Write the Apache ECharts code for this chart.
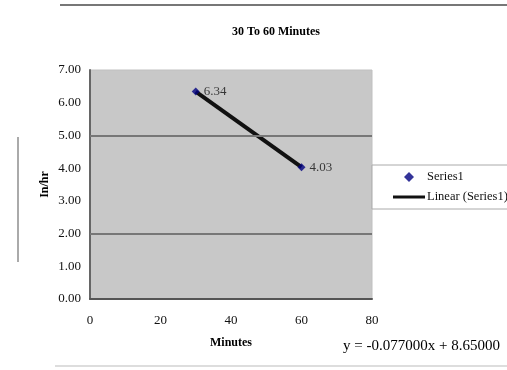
<!DOCTYPE html>
<html>
<head>
<meta charset="utf-8">
<script src="https://cdn.jsdelivr.net/npm/echarts@6/dist/echarts.min.js"></script>
<style>html,body{margin:0;padding:0;background:#fff}#c{width:507px;height:370px}</style>
</head>
<body>
<div id="c"></div>
<script>
// ---- data ----
const minutes = [30, 60];
const rates = [6.34, 4.03];
const xTicks = [0, 20, 40, 60, 80];
const yTicks = [0, 1, 2, 3, 4, 5, 6, 7];
const gridValues = [2, 5];
const titleText = '30 To 60 Minutes';
const xName = 'Minutes';
const yName = 'In/hr';
const seriesName = 'Series1';
const trendName = 'Linear (Series1)';

// linear regression trendline from the data
const n = minutes.length;
const mx = minutes.reduce((a, b) => a + b, 0) / n;
const my = rates.reduce((a, b) => a + b, 0) / n;
let sxy = 0, sxx = 0;
for (let i = 0; i < n; i++) { sxy += (minutes[i] - mx) * (rates[i] - my); sxx += (minutes[i] - mx) ** 2; }
const slope = sxy / sxx;
const intercept = my - slope * mx;
const trend = [[minutes[0], intercept + slope * minutes[0]], [minutes[n - 1], intercept + slope * minutes[n - 1]]];
const eqText = 'y = ' + slope.toFixed(6) + 'x + ' + intercept.toFixed(5);

const serif = '"Liberation Serif", "DejaVu Serif", serif';
const chart = echarts.init(document.getElementById('c'), null, { renderer: 'canvas' });
chart.setOption({
  backgroundColor: '#ffffff',
  animation: false,
  title: {
    text: titleText, left: 271, top: 21, textAlign: 'center',
    textStyle: { fontFamily: serif, fontSize: 12, fontWeight: 'bold', color: '#000' }
  },
  grid: { left: 90, right: 135, top: 70, bottom: 71, show: true, backgroundColor: '#c8c8c8', borderColor: '#c0c0c0', borderWidth: 1 },
  xAxis: {
    type: 'value', min: 0, max: 80, interval: 20,
    name: xName, nameLocation: 'middle', nameGap: 38,
    nameTextStyle: { fontFamily: serif, fontSize: 12, fontWeight: 'bold', color: '#000' },
    axisLine: { show: true, lineStyle: { color: '#555', width: 2 } },
    axisTick: { show: false },
    axisLabel: { fontFamily: serif, fontSize: 13, color: '#111', margin: 15, formatter: v => String(v) },
    splitLine: { show: false }
  },
  yAxis: {
    type: 'value', min: 0, max: 7, interval: 1,
    name: yName, nameLocation: 'middle', nameGap: 39, nameRotate: 90, nameMoveOverlap: false,
    nameTextStyle: { fontFamily: serif, fontSize: 12, fontWeight: 'bold', color: '#000' },
    axisLine: { show: true, lineStyle: { color: '#666', width: 2 } },
    axisTick: { show: false },
    axisLabel: { fontFamily: serif, fontSize: 13, color: '#111', margin: 9, formatter: v => v.toFixed(2) },
    splitLine: { show: false }
  },
  legend: {
    orient: 'vertical', left: 372, top: 165,
    padding: [5, 40, 5, 21], itemGap: 6,
    itemWidth: 32, itemHeight: 10,
    borderColor: '#aaa', borderWidth: 1, backgroundColor: '#fff',
    textStyle: { fontFamily: serif, fontSize: 12.5, color: '#111', lineHeight: 14, padding: [0, 0, 0, -3] },
    data: [
      { name: seriesName, icon: 'path://M5,0L10,5L5,10L0,5Z', itemStyle: { color: '#000080' } },
      { name: trendName, icon: 'path://M0,0H32V3H0Z', itemStyle: { color: '#111' } }
    ]
  },
  series: [
    {
      name: trendName, type: 'line', data: trend, showSymbol: false, symbol: 'none',
      lineStyle: { color: '#111', width: 4 }, z: 3,
      markLine: {
        silent: true, symbol: 'none', label: { show: false },
        lineStyle: { color: '#777', width: 2, type: 'solid' },
        data: gridValues.map(v => ({ yAxis: v }))
      }
    },
    {
      name: seriesName, type: 'scatter', data: minutes.map((m, i) => [m, rates[i]]),
      symbol: 'diamond', symbolSize: 8, itemStyle: { color: '#000080' }, z: 4,
      label: {
        show: true, position: 'right', distance: 4,
        fontFamily: serif, fontSize: 13, color: '#111',
        formatter: p => p.value[1].toFixed(2)
      }
    }
  ],
  graphic: [
    { type: 'line', shape: { x1: 60, y1: 5, x2: 507, y2: 5 }, style: { stroke: '#777', lineWidth: 2 } },
    { type: 'line', shape: { x1: 18, y1: 137, x2: 18, y2: 262 }, style: { stroke: '#aaa', lineWidth: 2 } },
    { type: 'line', shape: { x1: 55, y1: 366, x2: 507, y2: 366 }, style: { stroke: '#ddd', lineWidth: 2 } },
    { type: 'text', left: 343, top: 339, style: { text: eqText, font: '15px ' + serif, fill: '#000' } }
  ]
});
</script>
</body>
</html>
